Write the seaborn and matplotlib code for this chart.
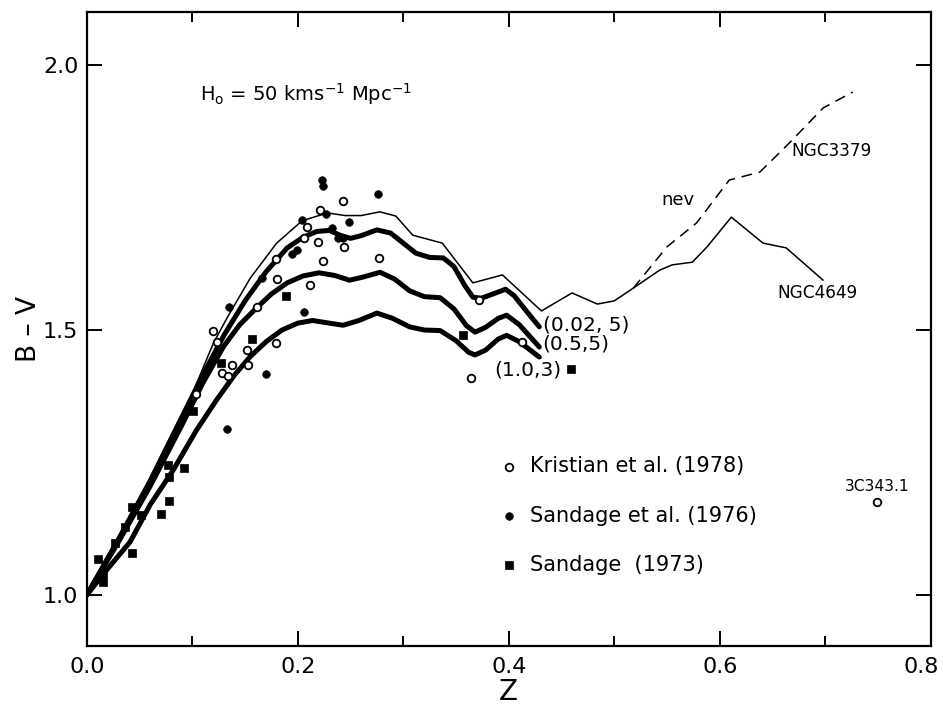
import numpy as np
import pandas as pd
import matplotlib
matplotlib.use("Agg")
import matplotlib.pyplot as plt
import matplotlib.transforms as mtransforms
import seaborn as sns

# ---------------- data ----------------
# thin line (model passing into observed galaxy colours), ends on NGC4649
thin_z = [0.0, 0.05, 0.098, 0.12, 0.133, 0.155, 0.18, 0.204, 0.228, 0.245, 0.26, 0.278,
          0.293, 0.309, 0.337, 0.366, 0.394, 0.431, 0.46, 0.484, 0.50, 0.518, 0.543,
          0.555, 0.574, 0.588, 0.611, 0.641, 0.663, 0.698]
thin_bv = [1.00, 1.18, 1.37, 1.475, 1.523, 1.598, 1.664, 1.706, 1.721, 1.716, 1.716, 1.723,
           1.715, 1.679, 1.664, 1.589, 1.604, 1.536, 1.570, 1.549, 1.555, 1.579, 1.613,
           1.623, 1.628, 1.657, 1.713, 1.664, 1.655, 1.594]

# dashed branch NGC3379
ngc3379_z = [0.518, 0.55, 0.578, 0.609, 0.638, 0.666, 0.698, 0.726]
ngc3379_bv = [1.579, 1.657, 1.702, 1.783, 1.798, 1.853, 1.919, 1.949]

# thick model curves
m002_z = [0.0, 0.03, 0.06, 0.09, 0.11, 0.13, 0.15, 0.17, 0.19, 0.205, 0.218, 0.23, 0.24,
          0.25, 0.26, 0.275, 0.288, 0.30, 0.312, 0.325, 0.338, 0.348, 0.358, 0.366, 0.374,
          0.385, 0.397, 0.405, 0.417, 0.429]
m002_bv = [1.00, 1.105, 1.215, 1.335, 1.415, 1.49, 1.555, 1.61, 1.655, 1.675, 1.686, 1.688,
           1.679, 1.673, 1.678, 1.689, 1.683, 1.664, 1.645, 1.637, 1.636, 1.62, 1.585,
           1.562, 1.56, 1.568, 1.577, 1.565, 1.535, 1.506]

m05_z = [0.0, 0.03, 0.06, 0.09, 0.11, 0.13, 0.145, 0.16, 0.175, 0.19, 0.205, 0.22, 0.235,
         0.249, 0.262, 0.278, 0.292, 0.306, 0.32, 0.335, 0.348, 0.36, 0.368, 0.378, 0.39,
         0.398, 0.41, 0.429]
m05_bv = [1.00, 1.10, 1.205, 1.32, 1.40, 1.47, 1.51, 1.54, 1.568, 1.589, 1.602, 1.608,
          1.603, 1.594, 1.600, 1.609, 1.596, 1.574, 1.563, 1.561, 1.54, 1.508, 1.496,
          1.505, 1.522, 1.528, 1.51, 1.468]

m10_z = [0.0, 0.02, 0.041, 0.06, 0.082, 0.104, 0.123, 0.14, 0.155, 0.17, 0.185, 0.2, 0.214,
         0.23, 0.243, 0.258, 0.275, 0.29, 0.306, 0.32, 0.335, 0.35, 0.362, 0.368, 0.378,
         0.39, 0.398, 0.41, 0.429]
m10_bv = [1.00, 1.05, 1.10, 1.17, 1.236, 1.311, 1.368, 1.415, 1.45, 1.478, 1.50, 1.513,
          1.518, 1.513, 1.509, 1.518, 1.532, 1.522, 1.506, 1.50, 1.499, 1.48, 1.458,
          1.453, 1.462, 1.483, 1.49, 1.478, 1.449]

# Kristian et al. (1978) - open circles
kri_z = [0.120, 0.123, 0.152, 0.138, 0.153, 0.128, 0.134, 0.179, 0.161, 0.104, 0.180,
         0.212, 0.209, 0.206, 0.219, 0.244, 0.224, 0.221, 0.243, 0.277, 0.179, 0.372,
         0.413, 0.364]
kri_bv = [1.498, 1.477, 1.462, 1.434, 1.434, 1.419, 1.413, 1.475, 1.543, 1.379, 1.596,
          1.585, 1.694, 1.674, 1.666, 1.657, 1.630, 1.726, 1.743, 1.636, 1.634, 1.557,
          1.477, 1.409]
# 3C343.1
src_z = [0.749]
src_bv = [1.175]

# Sandage et al. (1976) - filled circles
s76_z = [0.223, 0.224, 0.204, 0.227, 0.249, 0.232, 0.238, 0.243, 0.199, 0.195, 0.166,
         0.135, 0.206, 0.170, 0.133, 0.276]
s76_bv = [1.783, 1.772, 1.708, 1.719, 1.704, 1.692, 1.674, 1.674, 1.651, 1.643, 1.598,
          1.543, 1.534, 1.417, 1.313, 1.757]

# Sandage (1973) - filled squares
s73_z = [0.011, 0.015, 0.015, 0.027, 0.036, 0.043, 0.043, 0.051, 0.070, 0.078, 0.077,
         0.078, 0.092, 0.101, 0.127, 0.157, 0.189, 0.357, 0.459]
s73_bv = [1.068, 1.040, 1.025, 1.098, 1.128, 1.166, 1.079, 1.151, 1.153, 1.177, 1.245,
          1.223, 1.240, 1.347, 1.438, 1.483, 1.564, 1.491, 1.426]

x_major = [0.0, 0.2, 0.4, 0.6, 0.8]
x_labels = ["0.0", "0.2", "0.4", "0.6", "0.8"]
x_minor = [0.1, 0.3, 0.5, 0.7]
y_major = [1.0, 1.5, 2.0]
y_labels = ["1.0", "1.5", "2.0"]

# ---------------- plot ----------------
sns.set_style("ticks")
plt.rcParams["font.family"] = ["DejaVu Sans"]
plt.rcParams["mathtext.fontset"] = "dejavusans"
for key in ["text.color", "axes.labelcolor", "xtick.color", "ytick.color",
            "axes.edgecolor", "xtick.labelcolor", "ytick.labelcolor"]:
    plt.rcParams[key] = "black"

fig = plt.figure(figsize=(9.43, 7.09), dpi=100)
ax = fig.add_axes([0.092, 0.089, 0.895, 0.894])

K = "black"
sns.lineplot(x=thin_z, y=thin_bv, color=K, lw=1.1, estimator=None, sort=False, ax=ax)
sns.lineplot(x=ngc3379_z, y=ngc3379_bv, color=K, lw=1.1, estimator=None, sort=False,
             ax=ax, linestyle=(0, (7, 4.5)))
for zz, bb in [(m002_z, m002_bv), (m05_z, m05_bv), (m10_z, m10_bv)]:
    sns.lineplot(x=zz, y=bb, color=K, lw=3.6, estimator=None, sort=False, ax=ax,
                 solid_capstyle="round", solid_joinstyle="round")

sns.scatterplot(x=kri_z, y=kri_bv, marker="o", s=30, color="white", edgecolor=K,
                linewidth=1.3, ax=ax, label="Kristian et al. (1978)", zorder=5)
sns.scatterplot(x=src_z, y=src_bv, marker="o", s=30, color="white", edgecolor=K,
                linewidth=1.3, ax=ax, legend=False, zorder=5)
sns.scatterplot(x=s76_z, y=s76_bv, marker="o", s=30, color=K, edgecolor=K,
                linewidth=0.5, ax=ax, label="Sandage et al. (1976)", zorder=5)
sns.scatterplot(x=s73_z, y=s73_bv, marker="s", s=30, color=K, edgecolor=K,
                linewidth=0.5, ax=ax, label="Sandage  (1973)", zorder=5)

ax.set_xlim(0.0, 0.8)
ax.set_ylim(0.904, 2.1)

for s in ax.spines.values():
    s.set_linewidth(1.6)
    s.set_color(K)
    s.set_visible(True)

ax.set_xticks(x_major)
ax.set_xticklabels(x_labels)
ax.set_xticks(x_minor, minor=True)
ax.set_yticks(y_major)
ax.set_yticklabels(y_labels)
ax.tick_params(axis="both", which="major", direction="in", length=11, width=1.4,
               top=True, right=True, labelsize=16, pad=8, color=K, labelcolor=K)
ax.tick_params(axis="x", which="minor", direction="in", length=7.5, width=1.4,
               top=True, bottom=True, color=K)
ax.tick_params(axis="y", which="major", pad=6)
# keep the last x label inside the figure, as in the original
lastlab = ax.get_xticklabels()[-1]
lastlab.set_transform(lastlab.get_transform() +
                      mtransforms.ScaledTranslation(-10 / 100, 0, fig.dpi_scale_trans))

ax.set_xlabel("Z", fontsize=20, labelpad=1, color=K)
ax.set_ylabel("B – V", fontsize=19, labelpad=1, color=K)

leg = ax.legend(loc="upper left", bbox_to_anchor=(0.4775, 0.312), frameon=False,
                fontsize=15, labelspacing=1.4, handletextpad=0.55, handlelength=1.0,
                borderaxespad=0, labelcolor=K)

ax.text(0.107, 1.945, r"H$_{\rm o}$ = 50 kms$^{-1}$ Mpc$^{-1}$", fontsize=14,
        ha="left", va="center", color=K)
ax.text(0.432, 1.51, "(0.02, 5)", fontsize=14.5, ha="left", va="center", color=K)
ax.text(0.432, 1.474, "(0.5,5)", fontsize=14.5, ha="left", va="center", color=K)
ax.text(0.386, 1.424, "(1.0,3)", fontsize=14.5, ha="left", va="center", color=K)
ax.text(0.5605, 1.745, "nev", fontsize=13, ha="center", va="center", color=K)
ax.text(0.668, 1.838, "NGC3379", fontsize=12.2, ha="left", va="center", color=K)
ax.text(0.655, 1.57, "NGC4649", fontsize=12.2, ha="left", va="center", color=K)
ax.text(0.749, 1.205, "3C343.1", fontsize=11.2, ha="center", va="center", color=K)

fig.savefig("out.png", dpi=100)
